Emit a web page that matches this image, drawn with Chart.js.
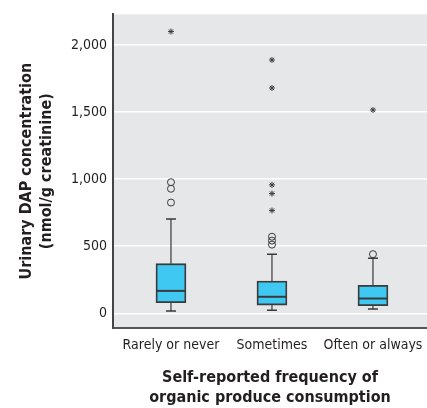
<!DOCTYPE html>
<html>
<head>
<meta charset="utf-8">
<script src="https://cdn.jsdelivr.net/npm/chart.js@4/dist/chart.umd.min.js"></script>
<style>
  html, body { margin: 0; padding: 0; background: #fff; }
  #wrap { width: 427px; height: 408px; }
</style>
</head>
<body>
<div id="wrap"><canvas id="chart"></canvas></div>
<script>
// --- data ---
const categories = ["Rarely or never", "Sometimes", "Often or always"];
const q1 = [79, 61, 57];
const q3 = [370, 240, 208];
const medians = [167, 123, 110];
const whiskerLow = [17, 22, 32];
const whiskerHigh = [704, 441, 410];
const circleOutliers = [[826, 929, 978], [512, 542, 571], [441]];
const starOutliers = [[2102], [767, 893, 958, 1681, 1890], [1517]];
const yTicks = [0, 500, 1000, 1500, 2000];

const fontFam = "'Liberation Sans Narrow', 'DejaVu Sans Condensed', 'Liberation Sans', sans-serif";
const dark = "#3a3a3a";

// outlier points as {x, y}
const circlePts = circleOutliers.flatMap((arr, i) => arr.map(v => ({ x: i, y: v })));
const starPts = starOutliers.flatMap((arr, i) => arr.map(v => ({ x: i, y: v })));

// --- grey plot panel ---
const panelBg = {
    id: "panelBg",
    beforeDraw(chart) {
        const { ctx, chartArea: a } = chart;
        ctx.save();
        ctx.fillStyle = "#e6e7e8";
        ctx.fillRect(a.left, a.top, a.right - a.left, a.bottom - a.top);
        ctx.restore();
    }
};

// --- whiskers + medians ---
const boxExtras = {
    id: "boxExtras",
    afterDatasetsDraw(chart) {
        const { ctx, scales: { x, y } } = chart;
        ctx.save();
        ctx.strokeStyle = dark;
        categories.forEach((_, i) => {
            const cx = x.getPixelForValue(i);
            // whiskers
            ctx.lineWidth = 1.2;
            ctx.beginPath();
            ctx.moveTo(cx, y.getPixelForValue(q3[i]));
            ctx.lineTo(cx, y.getPixelForValue(whiskerHigh[i]));
            ctx.moveTo(cx, y.getPixelForValue(q1[i]));
            ctx.lineTo(cx, y.getPixelForValue(whiskerLow[i]));
            ctx.stroke();
            ctx.lineWidth = 1.5;
            ctx.beginPath();
            ctx.moveTo(cx - 5, y.getPixelForValue(whiskerHigh[i]));
            ctx.lineTo(cx + 5, y.getPixelForValue(whiskerHigh[i]));
            ctx.moveTo(cx - 5, y.getPixelForValue(whiskerLow[i]));
            ctx.lineTo(cx + 5, y.getPixelForValue(whiskerLow[i]));
            ctx.stroke();
            // median
            ctx.lineWidth = 2;
            ctx.beginPath();
            ctx.moveTo(cx - 15, y.getPixelForValue(medians[i]));
            ctx.lineTo(cx + 15, y.getPixelForValue(medians[i]));
            ctx.stroke();
        });
        ctx.restore();
    }
};

new Chart(document.getElementById("chart"), {
    type: "bar",
    data: {
        datasets: [
            {
                type: "bar",
                data: categories.map((_, i) => ({ x: i, y: [q1[i], q3[i]] })),
                backgroundColor: "#3ec8f2",
                borderColor: dark,
                borderWidth: 1.8,
                borderSkipped: false,
                barThickness: 30
            },
            {
                type: "line",
                data: circlePts,
                showLine: false,
                pointStyle: "circle",
                pointRadius: 3.5,
                pointBorderWidth: 1,
                pointBorderColor: dark,
                pointBackgroundColor: "rgba(0,0,0,0)"
            },
            {
                type: "line",
                data: starPts,
                showLine: false,
                pointStyle: "star",
                pointRadius: 3,
                pointBorderWidth: 1,
                pointBorderColor: dark,
                pointBackgroundColor: dark
            }
        ]
    },
    options: {
        responsive: true,
        maintainAspectRatio: false,
        animation: false,
        layout: { autoPadding: false, padding: { top: 10, right: 0, left: 0, bottom: 0 } },
        plugins: {
            legend: { display: false },
            tooltip: { enabled: false }
        },
        scales: {
            x: {
                type: "linear",
                offset: false,
                min: -0.574,
                max: 2.535,
                afterBuildTicks: s => { s.ticks = categories.map((_, i) => ({ value: i })); },
                afterFit: s => { s.height = 80; s.paddingLeft = 0; s.paddingRight = 0; },
                grid: { display: false, drawTicks: false, offset: false },
                border: { display: true, color: "#555", width: 2 },
                ticks: {
                    padding: 9,
                    autoSkip: false,
                    maxRotation: 0,
                    minRotation: 0,
                    color: "#231f20",
                    font: { family: fontFam, size: 14 },
                    callback: v => categories[v]
                },
                title: {
                    display: true,
                    text: ["Self-reported frequency of", "organic produce consumption"],
                    color: "#231f20",
                    font: { family: fontFam, size: 16, weight: "bold", lineHeight: 1.25 },
                    padding: { top: 0, bottom: 0 }
                }
            },
            y: {
                min: -110,
                max: 2230,
                afterBuildTicks: s => { s.ticks = yTicks.map(v => ({ value: v })); },
                afterFit: s => { s.width = 113; },
                grid: { color: "#ffffff", lineWidth: 1.5, drawTicks: false },
                border: { display: true, color: "#444", width: 2 },
                ticks: {
                    padding: 6,
                    color: "#231f20",
                    font: { family: fontFam, size: 14 },
                    callback: v => v.toLocaleString("en-US")
                },
                title: {
                    display: true,
                    text: ["Urinary DAP concentration", "(nmol/g creatinine)"],
                    color: "#231f20",
                    font: { family: fontFam, size: 16, weight: "bold", lineHeight: 1.3 },
                    padding: { top: 16, bottom: 0 }
                }
            }
        }
    },
    plugins: [panelBg, boxExtras]
});
</script>
</body>
</html>
